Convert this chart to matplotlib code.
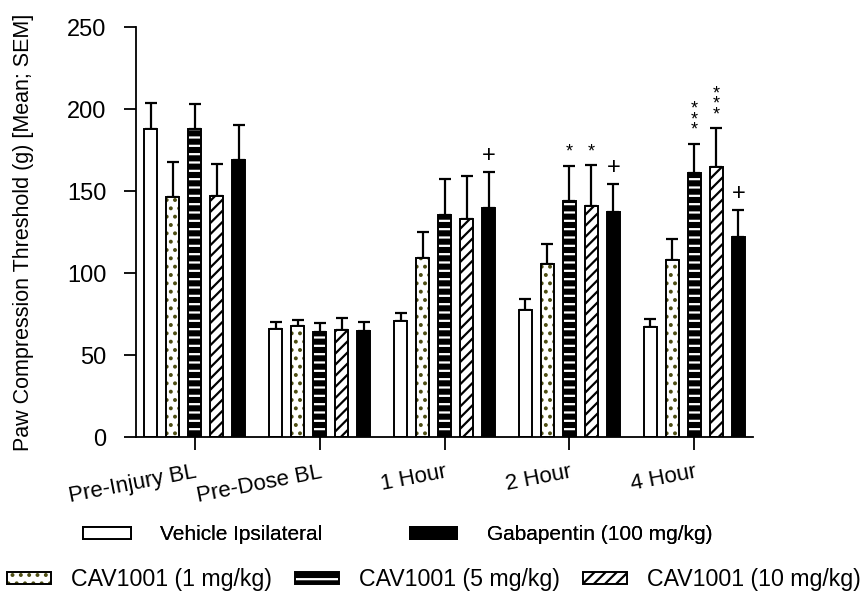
import numpy as np
import matplotlib.pyplot as plt
from matplotlib.patches import Patch
from matplotlib.legend_handler import HandlerTuple

plt.rcParams['font.family'] = ['Liberation Sans', 'DejaVu Sans']
plt.rcParams['hatch.linewidth'] = 1.6

timepoints = ['Pre-Injury BL', 'Pre-Dose BL', '1 Hour', '2 Hour', '4 Hour']
groups = ['Vehicle Ipsilateral', 'CAV1001 (1 mg/kg)', 'CAV1001 (5 mg/kg)',
          'CAV1001 (10 mg/kg)', 'Gabapentin (100 mg/kg)']

vehicle = [187.8, 65.9, 71.0, 77.4, 67.3]
vehicle_sem = [16.2, 4.1, 4.4, 6.6, 4.7]
cav1 = [146.5, 67.7, 109.3, 105.3, 108.3]
cav1_sem = [21.5, 3.8, 15.7, 12.7, 12.8]
cav5 = [188.0, 64.2, 135.4, 144.0, 161.0]
cav5_sem = [15.0, 5.1, 22.3, 21.5, 18.0]
cav10 = [147.0, 65.2, 133.1, 141.0, 164.8]
cav10_sem = [19.5, 7.3, 26.3, 24.9, 23.8]
gaba = [169.0, 64.8, 140.0, 137.2, 122.2]
gaba_sem = [21.6, 5.2, 21.6, 17.1, 16.2]

means = [vehicle, cav1, cav5, cav10, gaba]
sems = [vehicle_sem, cav1_sem, cav5_sem, cav10_sem, gaba_sem]

# significance marks: (timepoint index, group index, text)
marks = [(2, 4, '+'), (3, 2, '*'), (3, 3, '*'), (3, 4, '+'),
         (4, 2, '*\n*\n*'), (4, 3, '*\n*\n*'), (4, 4, '+')]

styles = [
    dict(facecolor='white', hatch=None, hatchcolor=None),
    dict(facecolor='white', hatch='..', hatchcolor='#4d4d12'),
    dict(facecolor='black', hatch='--', hatchcolor='white'),
    dict(facecolor='white', hatch='///', hatchcolor='black'),
    dict(facecolor='black', hatch=None, hatchcolor=None),
]

fig = plt.figure(figsize=(8.64, 5.93), dpi=100)
ax = fig.add_axes([0.157, 0.263, 0.715, 0.691])

x = np.arange(len(timepoints))
width = 0.104
step = 0.176
handles = []
for i, (m, s, st) in enumerate(zip(means, sems, styles)):
    pos = x + (i - 2) * step
    ax.errorbar(pos, m, yerr=[np.zeros(len(s)), s], fmt='none', ecolor='black',
                elinewidth=1.6, capsize=4, capthick=1.6, zorder=1)
    layers = []
    if st['hatch']:
        ax.bar(pos, m, width, color=st['facecolor'], edgecolor=st['hatchcolor'],
               hatch=st['hatch'], linewidth=0, zorder=2)
        layers.append(Patch(facecolor=st['facecolor'], edgecolor=st['hatchcolor'],
                            hatch=st['hatch'], linewidth=0))
        ax.bar(pos, m, width, fill=False, edgecolor='black', linewidth=1.4, zorder=3)
        layers.append(Patch(fill=False, edgecolor='black', linewidth=1.4))
    else:
        ax.bar(pos, m, width, color=st['facecolor'], edgecolor='black',
               linewidth=1.4, zorder=2)
        layers.append(Patch(facecolor=st['facecolor'], edgecolor='black', linewidth=1.4))
    handles.append(tuple(layers))

for t, g, txt in marks:
    top = means[g][t] + sems[g][t]
    size = 17 if txt == '+' else 13
    ax.text(t + (g - 2) * step, top + 3, txt, ha='center', va='bottom',
            fontsize=size, linespacing=0.5)

ax.set_xlim(-0.472, 4.472)
ax.set_ylim(0, 250)
ax.set_yticks([0, 50, 100, 150, 200, 250])
ax.set_xticks(x)
ax.set_xticklabels(timepoints, rotation=11, ha='right', rotation_mode='anchor')
ax.tick_params(axis='y', labelsize=17, length=9, width=1.3, pad=12)
ax.tick_params(axis='x', labelsize=16, length=9, width=1.3, pad=9)
ax.set_ylabel('Paw Compression Threshold (g) [Mean; SEM]', fontsize=15.5, labelpad=24)
for side in ['top', 'right']:
    ax.spines[side].set_visible(False)
for side in ['left', 'bottom']:
    ax.spines[side].set_linewidth(1.3)

hmap = {tuple: HandlerTuple(ndivide=1, pad=0)}
leg1 = fig.legend([handles[0], handles[4]], [groups[0], groups[4]], loc='center',
                  bbox_to_anchor=(0.46, 0.098), ncol=2, frameon=False, fontsize=15,
                  handlelength=2.3, handleheight=0.5, handletextpad=1.4,
                  columnspacing=4.2, handler_map=hmap)
leg2 = fig.legend([handles[1], handles[2], handles[3]], groups[1:4], loc='center',
                  bbox_to_anchor=(0.502, 0.022), ncol=3, frameon=False, fontsize=16.7,
                  handlelength=1.9, handleheight=0.45, handletextpad=0.85,
                  columnspacing=1.0, handler_map=hmap)
fig.add_artist(leg1)

fig.savefig('out.png', dpi=100)
